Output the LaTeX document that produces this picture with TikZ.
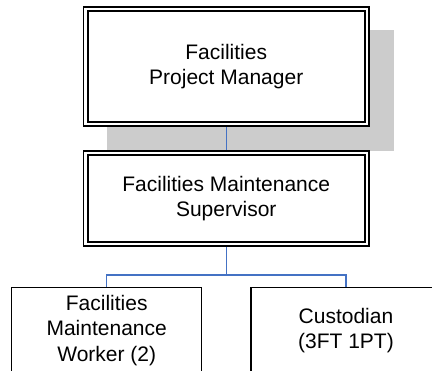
\documentclass[tikz,border=0pt]{standalone}
\usepackage{fontspec}
\setmainfont{Liberation Sans}
\usetikzlibrary{backgrounds}
\definecolor{linkblue}{RGB}{68,114,196}
\definecolor{shadowgray}{RGB}{204,204,204}
\begin{document}
\begin{tikzpicture}[x=1pt,y=-1pt,
  orgbox/.style={draw=black, fill=white, align=center, inner sep=0pt, outer sep=0pt,
    font=\fontsize{21}{25.4}\selectfont},
  headbox/.style={orgbox, double=white, double distance=2.4pt, line width=1.8pt},
  staffbox/.style={orgbox, line width=1.4pt, minimum width=190pt, minimum height=86pt},
  conn/.style={draw=linkblue, line width=1.3pt}]
  \useasboundingbox (0,0) rectangle (432,371);
  \clip (0,0) rectangle (432,371);

  % management chain
  \node[headbox, minimum width=281.5pt, minimum height=115pt] (pm) at (226.25,66.5)
    {Facilities\\Project Manager};
  \node[headbox, minimum width=281.5pt, minimum height=91pt] (sup) at (226.25,198.5)
    {Facilities Maintenance\\Supervisor};

  % staff under the supervisor
  \node[staffbox, anchor=north] (worker) at (106.7,287.5)
    {Facilities\\Maintenance\\Worker (2)};
  \node[staffbox, anchor=north] (cust) at (346,287.5)
    {Custodian\\(3FT 1PT)};

  \coordinate (bus) at (226.25,275);

  \begin{scope}[on background layer]
    % drop shadow of the manager box
    \fill[shadowgray] ([shift={(21,21)}]pm.north west) rectangle ([shift={(27,27)}]pm.south east);
    % reporting lines
    \draw[conn] (pm.south) -- (sup.north);
    \draw[conn] (sup.south) -- (bus);
    \draw[conn] (bus) -| (worker.north);
    \draw[conn] (bus) -| (cust.north);
  \end{scope}
\end{tikzpicture}
\end{document}
